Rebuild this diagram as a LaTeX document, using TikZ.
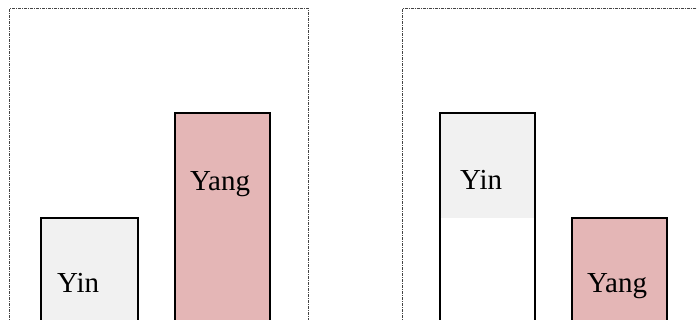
\documentclass[tikz,border=0pt]{standalone}
\usepackage{fontspec}
\setmainfont{Liberation Serif}
\definecolor{yinfill}{HTML}{F1F1F1}
\definecolor{yangfill}{HTML}{E4B6B6}
\definecolor{framegray}{HTML}{444444}
\tikzset{
  panel/.style={draw=framegray, line width=1pt, dash pattern=on 3pt off 1pt on 1pt off 1pt},
  bar/.style={draw=black, line width=1.6pt},
  barlabel/.style={anchor=base west, inner sep=0pt, font=\fontsize{29}{31}\selectfont}
}
\begin{document}
\begin{tikzpicture}[x=1pt,y=1pt]
  \useasboundingbox (0,0) rectangle (697,320);
  \clip (0,0) rectangle (697,320);
  % panel frames (open at the bottom of the view)
  \draw[panel] (9.5,-10) -- (9.5,311.5) -- (308,311.5) -- (308,-10);
  \draw[panel] (402,-10) -- (402,311.5) -- (710,311.5);
  % left panel: low Yin, tall Yang
  \fill[yinfill] (41,-10) rectangle (138,102);
  \draw[bar] (41,-10) -- (41,102) -- (138,102) -- (138,-10);
  \node[barlabel] (yinL) at (57,27) {Yin};
  \fill[yangfill] (175,-10) rectangle (270,207);
  \draw[bar] (175,-10) -- (175,207) -- (270,207) -- (270,-10);
  \node[barlabel] (yangL) at (190,129) {Yang};
  % right panel: tall Yin (shaded only at the top), low Yang
  \fill[yinfill] (440,102) rectangle (535,207);
  \draw[bar] (440,-10) -- (440,207) -- (535,207) -- (535,-10);
  \node[barlabel] (yinR) at (460,130) {Yin};
  \fill[yangfill] (572,-10) rectangle (667,102);
  \draw[bar] (572,-10) -- (572,102) -- (667,102) -- (667,-10);
  \node[barlabel] (yangR) at (587,27) {Yang};
\end{tikzpicture}
\end{document}
